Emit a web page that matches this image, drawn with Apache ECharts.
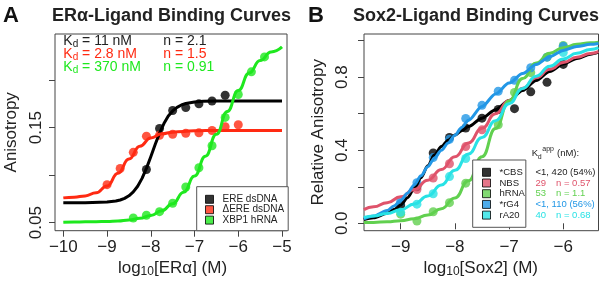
<!DOCTYPE html>
<html><head><meta charset="utf-8">
<script src="https://cdn.jsdelivr.net/npm/echarts@6/dist/echarts.min.js"></script>
<style>html,body{margin:0;padding:0;background:#fff}#c{width:609px;height:281px}</style>
</head><body><div id="c"></div>
<script>
const FONT = '"Liberation Sans", Arial, sans-serif';

// ---------- Panel A data ----------
const aXTicks = [-10, -9, -8, -7, -6, -5];
const aYTicks = [0.05, 0.10, 0.15, 0.20];
const aYLabels = [0.05, 0.15];
const ereX = [-8.1, -7.8, -7.5, -7.2, -6.9, -6.6, -6.3];
const ereY = [0.106, 0.149, 0.168, 0.171, 0.175, 0.178, 0.184];
const dereX = [-9.0, -8.7, -8.4, -8.1, -7.8, -7.5, -7.2, -6.9, -6.6, -6.3, -6.0];
const dereY = [0.090, 0.107, 0.124, 0.141, 0.142, 0.143, 0.144, 0.1445, 0.147, 0.151, 0.153];
const xbpX = [-8.4, -8.1, -7.8, -7.5, -7.2, -6.9, -6.6, -6.3, -6.0, -5.7, -5.4];
const xbpY = [0.0550, 0.0578, 0.0616, 0.0704, 0.0875, 0.1078, 0.1309, 0.1607, 0.1848, 0.2086, 0.2243];
// fitted curves
const ereFitX = [-10, -9.5, -9.0, -8.8, -8.7, -8.6, -8.5, -8.4, -8.3, -8.2, -8.1, -8.0, -7.9, -7.8, -7.7, -7.6, -7.5, -7.4, -7.3, -7.2, -7.0, -6.8, -6.5, -6.0, -5.5, -5.0];
const ereFitY = [0.071, 0.071, 0.0717, 0.0728, 0.0739, 0.0756, 0.0783, 0.0824, 0.0883, 0.0966, 0.1071, 0.1194, 0.1322, 0.1442, 0.1543, 0.1621, 0.1675, 0.1713, 0.1738, 0.1753, 0.177, 0.1776, 0.178, 0.178, 0.178, 0.178];
const aFitX = [-10, -9.75, -9.5, -9.25, -9, -8.75, -8.5, -8.25, -8, -7.75, -7.5, -7.25, -7, -6.75, -6.5, -6.25, -6, -5.75, -5.5, -5.25, -5];
const dereFitY = [0.0761, 0.0768, 0.0782, 0.0815, 0.0885, 0.102, 0.117, 0.1305, 0.139, 0.1435, 0.1452, 0.146, 0.1466, 0.1469, 0.147, 0.147, 0.147, 0.147, 0.147, 0.147, 0.147];
const xbpFitY = [0.0505, 0.0507, 0.0509, 0.0511, 0.0513, 0.0519, 0.0529, 0.0546, 0.0576, 0.0625, 0.070, 0.082, 0.099, 0.120, 0.143, 0.167, 0.189, 0.2075, 0.2205, 0.2295, 0.2348];

// ---------- Panel B data ----------
const bXTicks = [-9, -8, -7, -6];
const bYTicks = [0.0, 0.2, 0.4, 0.6, 0.8, 1.0];
const bYLabels = [0.0, 0.4, 0.8];
const cbsX = [-9.0, -8.7, -8.4, -8.1, -7.8, -7.5, -7.2, -6.9, -6.6, -6.3, -6.0];
const cbsY = [0.10, 0.20, 0.385, 0.47, 0.522, 0.576, 0.623, 0.628, 0.72, 0.772, 0.87];
const nbsX = [-8.7, -8.4, -8.1, -7.8, -7.5];
const nbsY = [0.185, 0.248, 0.326, 0.42, 0.512];
const hrnaX = [-9.0, -8.7, -8.4, -8.1, -7.8, -7.5, -7.2, -6.9, -6.6, -6.3, -6.0];
const hrnaY = [0.05, 0.012, 0.063, 0.113, 0.22, 0.32, 0.54, 0.717, 0.825, 0.91, 0.974];
const rg4X = [-9.0, -8.7, -8.4, -8.1, -7.8, -7.5, -7.2, -6.9, -6.6, -6.3, -6.0];
const rg4Y = [0.118, 0.222, 0.36, 0.46, 0.574, 0.646, 0.723, 0.783, 0.852, 0.91, 0.969];
const ra20X = [-9.0, -8.7, -8.4, -8.1, -7.8, -6.0];
const ra20Y = [0.06, 0.105, 0.162, 0.256, 0.355, 0.935];
const bFitX = [-9.68, -9.5, -9.25, -9.0, -8.75, -8.5, -8.25, -8.0, -7.75, -7.5, -7.25, -7.0, -6.75, -6.5, -6.25, -6.0, -5.75, -5.5, -5.35];
const bFineX = [-9.68, -9.5, -9.25, -9.125, -9.0, -8.875, -8.75, -8.625, -8.5, -8.375, -8.25, -8.125, -8.0, -7.875, -7.75, -7.5, -7.25, -7.0, -6.75, -6.5, -6.25, -6.0, -5.75, -5.5, -5.35];
const cbsFitY = [0.02, 0.03, 0.055, 0.075, 0.10, 0.14, 0.19, 0.25, 0.315, 0.375, 0.42, 0.455, 0.483, 0.507, 0.53, 0.576, 0.622, 0.672, 0.727, 0.782, 0.832, 0.872, 0.903, 0.926, 0.937];
const rg4FitY = [0.025, 0.04, 0.07, 0.095, 0.125, 0.165, 0.21, 0.26, 0.31, 0.358, 0.40, 0.44, 0.482, 0.525, 0.565, 0.64, 0.708, 0.768, 0.82, 0.869, 0.912, 0.947, 0.968, 0.98, 0.985];
const nbsFitY = [0.075, 0.09, 0.113, 0.145, 0.185, 0.236, 0.295, 0.364, 0.44, 0.52, 0.60, 0.673, 0.74, 0.797, 0.843, 0.88, 0.91, 0.93, 0.94];
const hrnaFitY = [0.004, 0.005, 0.008, 0.014, 0.025, 0.045, 0.08, 0.139, 0.233, 0.364, 0.519, 0.67, 0.793, 0.878, 0.931, 0.962, 0.98, 0.989, 0.992];
const ra20FitY = [0.032, 0.04, 0.054, 0.074, 0.106, 0.15, 0.21, 0.29, 0.38, 0.47, 0.562, 0.655, 0.738, 0.806, 0.86, 0.90, 0.931, 0.952, 0.962];

const cA = {black: '#000000', red: '#ff2a12', green: '#1ee81e'};
const cB = {cbs: '#000000', nbs: '#DF536B', hrna: '#61D04F', rg4: '#2297E6', ra20: '#28E2E5'};
const AXC = '#444';

function zip(xs, ys) { return xs.map((x, i) => [x, ys[i]]); }
const minus = s => s.replace('-', '\u2212');

function xAxis(gi, min, max, ticks) {
  return {type: 'value', gridIndex: gi, min, max,
    axisLine: {show: false},
    axisTick: {show: true, customValues: ticks, length: 6, lineStyle: {color: AXC, width: 1}},
    axisLabel: {show: true, customValues: ticks, fontSize: 17, fontFamily: FONT, color: '#222', margin: 8,
      formatter: v => minus(String(v))},
    splitLine: {show: false}};
}
function yAxis(gi, min, max, ticks, labels, dec, margin) {
  return {type: 'value', gridIndex: gi, min, max,
    axisLine: {show: false},
    axisTick: {show: true, customValues: ticks, length: 6, lineStyle: {color: AXC, width: 1}},
    axisLabel: {show: true, customValues: labels, rotate: 90, fontSize: 17, fontFamily: FONT, color: '#222', margin,
      formatter: v => v.toFixed(dec)},
    splitLine: {show: false}};
}
function pts(name, xs, ys, color, xi) {
  return {name, type: 'scatter', xAxisIndex: xi, yAxisIndex: xi, data: zip(xs, ys), symbol: 'circle', symbolSize: 9,
    itemStyle: {color}, silent: true};
}
function fit(name, xs, ys, color, xi, smooth) {
  return {name, type: 'line', xAxisIndex: xi, yAxisIndex: xi, data: zip(xs, ys), showSymbol: false,
    smooth: smooth === undefined ? true : smooth, smoothMonotone: 'x',
    lineStyle: {color, width: 3, join: 'round'}, clip: true, silent: true};
}
function txt(x, y, text, size, fill, opt) {
  return Object.assign({type: 'text', x, y, silent: true,
    style: Object.assign({text, fontSize: size, fontFamily: FONT, fill, textAlign: 'left', textVerticalAlign: 'middle'}, opt || {})});
}
function kd(x, y, rest, fill) {
  return {type: 'text', x, y, silent: true, style: {text: '{k|K}{s|d}{k|' + rest + '}', fontFamily: FONT, fill,
    textAlign: 'left', textVerticalAlign: 'middle',
    rich: {k: {fontSize: 14, lineHeight: 16, fill, fontFamily: FONT}, s: {fontSize: 10, lineHeight: 10, verticalAlign: 'bottom', fill, fontFamily: FONT}}}};
}
function logTitle(x, y, inner) {
  return {type: 'text', x, y, silent: true, style: {text: '{a|log}{s|10}{a|' + inner + '}', fontFamily: FONT, fill: '#222',
    textAlign: 'center', textVerticalAlign: 'middle',
    rich: {a: {fontSize: 17, lineHeight: 20, fill: '#222', fontFamily: FONT}, s: {fontSize: 12, lineHeight: 12, verticalAlign: 'bottom', fill: '#222', fontFamily: FONT}}}};
}

const legendBase = {orient: 'vertical', itemWidth: 8, itemHeight: 8, icon: 'rect', borderColor: '#555', borderWidth: 1,
  backgroundColor: '#fff', selectedMode: false, itemStyle: {borderColor: '#000', borderWidth: 1}};

const option = {
  animation: false,
  backgroundColor: '#fff',
  grid: [
    {left: 55, top: 34, width: 232, height: 196.7, show: true, borderColor: AXC, borderWidth: 1, backgroundColor: 'transparent', outerBoundsMode: 'none'},
    {left: 364, top: 34, width: 234.5, height: 196.7, show: true, borderColor: AXC, borderWidth: 1, backgroundColor: 'transparent', outerBoundsMode: 'none'}
  ],
  xAxis: [xAxis(0, -10.19, -4.886, aXTicks), xAxis(1, -9.677, -5.35, bXTicks)],
  yAxis: [yAxis(0, 0.0416, 0.2484, aYTicks, aYLabels, 2, 10), yAxis(1, -0.0405, 1.0367, bYTicks, bYLabels, 1, 13.5)],
  legend: [
    Object.assign({}, legendBase, {data: ['ERE dsDNA', '\u0394ERE dsDNA', 'XBP1 hRNA'], left: 196.7, top: 186.7,
      padding: [7.6, 4, 5.6, 8.3], itemGap: 0.4,
      textStyle: {fontSize: 10, fontFamily: FONT, color: '#222', padding: [0, 0, 0, 4]}}),
    Object.assign({}, legendBase, {data: ['*CBS', 'NBS', 'hRNA', '*rG4', 'rA20'], left: 472.7, top: 160,
      padding: [7.3, 1, 7.2, 9.3], itemGap: 0.7,
      textStyle: {fontSize: 9.5, fontFamily: FONT, color: '#222', padding: [0, 0, 0, 4]}})
  ],
  series: [
    fit('ERE fit', ereFitX, ereFitY, cA.black, 0, false), pts('ERE dsDNA', ereX, ereY, cA.black, 0),
    fit('dERE fit', aFitX, dereFitY, cA.red, 0), pts('\u0394ERE dsDNA', dereX, dereY, cA.red, 0),
    fit('XBP1 fit', aFitX, xbpFitY, cA.green, 0), pts('XBP1 hRNA', xbpX, xbpY, cA.green, 0),
    pts('*CBS', cbsX, cbsY, cB.cbs, 1), fit('CBS fit', bFineX, cbsFitY, cB.cbs, 1, 0.3),
    pts('NBS', nbsX, nbsY, cB.nbs, 1), fit('NBS fit', bFitX, nbsFitY, cB.nbs, 1),
    pts('hRNA', hrnaX, hrnaY, cB.hrna, 1), fit('hRNA fit', bFitX, hrnaFitY, cB.hrna, 1),
    pts('*rG4', rg4X, rg4Y, cB.rg4, 1), fit('rG4 fit', bFineX, rg4FitY, cB.rg4, 1, 0.3),
    pts('rA20', ra20X, ra20Y, cB.ra20, 1), fit('rA20 fit', bFitX, ra20FitY, cB.ra20, 1)
  ],
  graphic: [
    txt(3, 16, 'A', 22, '#111', {fontWeight: 'bold'}),
    txt(171.5, 16.5, 'ER\u03b1-Ligand Binding Curves', 18, '#222', {fontWeight: 'bold', textAlign: 'center'}),
    txt(308, 16, 'B', 22, '#111', {fontWeight: 'bold'}),
    txt(476, 16.5, 'Sox2-Ligand Binding Curves', 18, '#222', {fontWeight: 'bold', textAlign: 'center'}),
    kd(63.3, 41.2, ' = 11 nM', '#222'),
    kd(63.3, 54.2, ' = 2.8 nM', cA.red),
    kd(63.3, 67.5, ' = 370 nM', cA.green),
    txt(163.3, 41.2, 'n = 2.1', 14, '#222'),
    txt(163.3, 54.2, 'n = 1.5', 14, cA.red),
    txt(163.3, 67.5, 'n = 0.91', 14, cA.green),
    logTitle(172.5, 268, '[ER\u03b1] (M)'),
    logTitle(480.8, 268, '[Sox2] (M)'),
    Object.assign(txt(11, 132.3, 'Anisotropy', 17, '#222', {textAlign: 'center'}), {rotation: Math.PI / 2}),
    Object.assign(txt(318.3, 132.3, 'Relative Anisotropy', 17, '#222', {textAlign: 'center'}), {rotation: Math.PI / 2}),
    txt(531.7, 153.5, 'K', 9.5, '#222'),
    txt(537.8, 157, 'd', 7, '#222'),
    txt(542.3, 149.5, 'app', 7, '#222'),
    txt(557, 153.5, '(nM):', 9.5, '#222'),
    txt(535.5, 172.3, '<1, 420 (54%)', 9.5, '#222'),
    txt(535.5, 183, '29', 9.5, cB.nbs), txt(556, 183, 'n = 0.57', 9.5, cB.nbs),
    txt(535.5, 193.7, '53', 9.5, cB.hrna), txt(556, 193.7, 'n = 1.1', 9.5, cB.hrna),
    txt(535.5, 204.4, '<1, 110 (56%)', 9.5, cB.rg4),
    txt(535.5, 215, '40', 9.5, cB.ra20), txt(556, 215, 'n = 0.68', 9.5, cB.ra20)
  ]
};

const chart = echarts.init(document.getElementById('c'), null, {renderer: 'canvas'});
chart.setOption(option);
</script>
</body></html>
